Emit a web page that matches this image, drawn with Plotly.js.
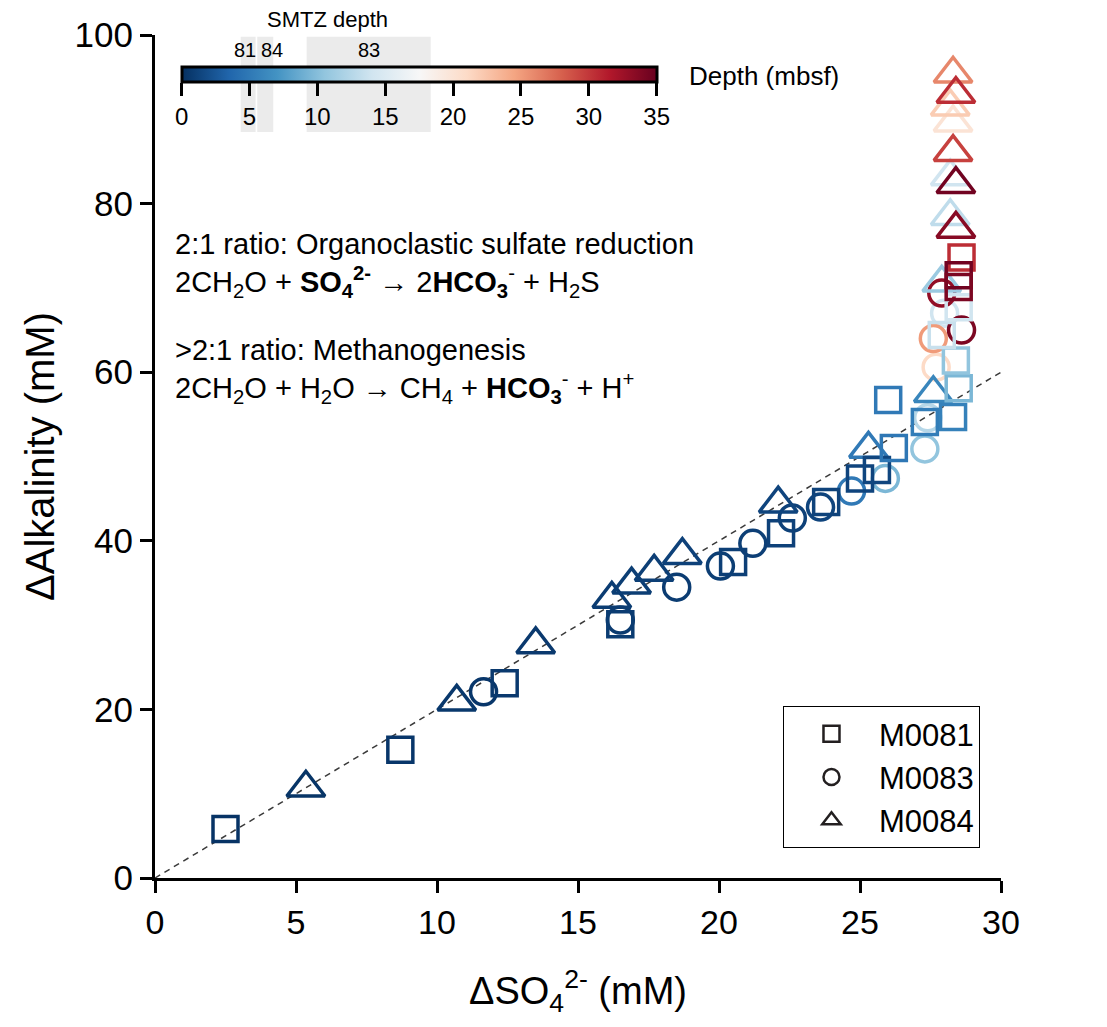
<!DOCTYPE html>
<html>
<head>
<meta charset="utf-8">
<script src="https://cdn.plot.ly/plotly-3.0.1.min.js"></script>
<style>html,body{margin:0;padding:0;background:#fff;}</style>
</head>
<body>
<div id="chart" style="width:1107px;height:1027px;"></div>
<script>
// ---- data ----
// M0081 (squares)
const so4_81 = [2.5, 8.7, 12.4, 16.5, 20.5, 22.2, 23.8, 25.0, 25.6, 26.2, 26.0, 27.3, 28.3, 28.5, 28.4, 27.9, 28.5, 28.6, 28.5, 28.5];
const alk_81 = [5.8, 15.2, 23.1, 30.1, 37.5, 40.9, 44.6, 47.4, 48.4, 51.0, 56.7, 54.1, 54.7, 58.1, 61.4, 64.4, 67.7, 73.6, 71.5, 70.1];
const dep_81 = [0.2, 0.4, 0.6, 0.8, 1.0, 1.1, 1.2, 1.3, 1.4, 4.8, 5.0, 5.3, 5.6, 9.5, 10.5, 13.5, 14.0, 30.5, 34.5, 34.0];
// M0083 (circles)
const so4_83 = [11.65, 16.5, 18.5, 20.05, 21.2, 22.6, 23.6, 24.7, 25.9, 27.3, 27.4, 28.0, 27.7, 27.6, 28.6, 27.9];
const alk_83 = [22.1, 30.6, 34.5, 37.0, 39.7, 42.7, 44.0, 45.9, 47.4, 50.9, 54.6, 67.0, 60.6, 64.0, 65.0, 69.4];
const dep_83 = [0.4, 0.7, 0.8, 0.9, 1.0, 1.1, 1.3, 5.0, 9.5, 10.5, 12.5, 14.0, 21.0, 25.0, 34.0, 33.0];
// M0084 (triangles)
const so4_84 = [5.35, 10.7, 13.5, 16.2, 16.9, 17.7, 18.7, 22.1, 25.3, 27.6, 27.9, 28.2, 28.2, 28.3, 28.2, 28.3, 28.4, 28.4, 28.3, 28.4];
const alk_84 = [10.7, 20.9, 27.7, 33.1, 34.8, 36.3, 38.3, 44.4, 50.9, 57.5, 70.6, 78.5, 83.2, 89.6, 91.5, 95.4, 77.0, 82.3, 86.1, 93.0];
const dep_84 = [0.3, 0.5, 0.6, 0.8, 0.9, 1.0, 1.1, 1.3, 5.0, 6.0, 11.0, 13.0, 14.0, 20.0, 22.0, 26.0, 33.5, 34.5, 29.5, 30.5];

// 2:1 reference line
const lineSO4 = [0, 30];
const lineAlk = [0, 60];

// SMTZ depth intervals (mbsf)
const smtzSites = ['81', '84', '83'];
const smtzTop = [4.35, 5.57, 9.21];
const smtzBottom = [5.45, 6.75, 18.35];

// ticks
const xTicks = [0, 5, 10, 15, 20, 25, 30];
const yTicks = [0, 20, 40, 60, 80, 100];
const depthTicks = [0, 5, 10, 15, 20, 25, 30, 35];
const depthMin = 0, depthMax = 35;

const legendNames = ['M0081', 'M0083', 'M0084'];

// ---- styling ----
const FONT = 'Liberation Sans, Arial, Helvetica, sans-serif';
const RdBu_r = [
  [0.0, '#053061'], [0.1, '#2166ac'], [0.2, '#4393c3'], [0.3, '#92c5de'],
  [0.4, '#d1e5f0'], [0.5, '#f7f7f7'], [0.6, '#fddbc7'], [0.7, '#f4a582'],
  [0.8, '#d6604d'], [0.9, '#b2182b'], [1.0, '#67001f']
];

// colorbar geometry (paper coords)
const cbX = 0.0315, cbLen = 0.5615, cbY = 0.9624;
function depthToPaper(d) { return cbX + (d - depthMin) / (depthMax - depthMin) * cbLen; }

function markerTrace(x, y, d, symbol, size, showscale) {
  const m = {
    symbol: symbol, size: size, color: d, colorscale: RdBu_r,
    cmin: depthMin, cmax: depthMax, line: {width: 3.5},
    showscale: !!showscale
  };
  if (showscale) {
    m.colorbar = {
      orientation: 'h', x: cbX, xanchor: 'left', y: cbY, yanchor: 'top',
      len: cbLen, lenmode: 'fraction', thickness: 15, thicknessmode: 'pixels',
      outlinewidth: 3, outlinecolor: '#000', xpad: 0, ypad: 0,
      ticks: 'outside', ticklen: 13, tickwidth: 3, tickcolor: '#000',
      tickvals: depthTicks, tickfont: {size: 24, family: FONT, color: '#000'}
    };
  }
  return {x: x, y: y, type: 'scatter', mode: 'markers', marker: m,
          showlegend: false, cliponaxis: false, hoverinfo: 'x+y'};
}

const traces = [
  {x: lineSO4, y: lineAlk, type: 'scatter', mode: 'lines',
   line: {color: '#3a3a3a', width: 1.5, dash: '6px,5px'}, showlegend: false, hoverinfo: 'skip'},
  markerTrace(so4_83, alk_83, dep_83, 'circle-open', 26, false),
  markerTrace(so4_84, alk_84, dep_84, 'triangle-up-open', 33, false),
  markerTrace(so4_81, alk_81, dep_81, 'square-open', 25, true)
];
// legend entries (black outlines)
const legendSymbols = ['square-open', 'circle-open', 'triangle-up-open'];
legendNames.forEach((nm, i) => {
  traces.push({x: [null], y: [null], type: 'scatter', mode: 'markers', name: nm,
    marker: {symbol: legendSymbols[i], color: '#231f20', size: 16, line: {width: 2.5}}});
});

const shapes = smtzSites.map((s, i) => ({
  type: 'rect', xref: 'paper', yref: 'paper', layer: 'below',
  x0: depthToPaper(smtzTop[i]), x1: depthToPaper(smtzBottom[i]),
  y0: 0.885, y1: 0.998, fillcolor: '#ebebeb', line: {width: 0}
}));

const annotations = smtzSites.map((s, i) => ({
  xref: 'paper', yref: 'paper', x: depthToPaper((smtzTop[i] + smtzBottom[i]) / 2) + (s === '84' ? 0.008 : (s === '81' ? -0.004 : 0)),
  y: 0.982, text: s, showarrow: false, xanchor: 'center', yanchor: 'middle',
  font: {size: 20, family: FONT, color: '#000'}
}));
annotations.push({xref: 'paper', yref: 'paper', x: depthToPaper((smtzTop[0] + smtzBottom[2]) / 2) - 0.01, y: 1.0185,
  text: 'SMTZ depth', showarrow: false, xanchor: 'center', yanchor: 'middle',
  font: {size: 22, family: FONT, color: '#000'}});
annotations.push({xref: 'paper', yref: 'paper', x: depthToPaper(depthMax) + 0.036, y: 0.9515,
  text: 'Depth (mbsf)', showarrow: false, xanchor: 'left', yanchor: 'middle',
  font: {size: 26, family: FONT, color: '#000'}});

const eqBlocks = [
  '2:1 ratio: Organoclastic sulfate reduction<br>' +
  '2CH<sub>2</sub>O + <b>SO<sub>4</sub><sup>2-</sup></b> → 2<b>HCO<sub>3</sub></b><sup>-</sup> + H<sub>2</sub>S',
  '>2:1 ratio: Methanogenesis<br>' +
  '2CH<sub>2</sub>O + H<sub>2</sub>O → CH<sub>4</sub> + <b>HCO<sub>3</sub></b><sup>-</sup> + H<sup>+</sup>'
];
const eqY = [0.7266, 0.6020];
eqBlocks.forEach((t, i) => annotations.push({
  xref: 'paper', yref: 'paper', x: 0.0213, y: eqY[i], text: t, showarrow: false, align: 'left',
  xanchor: 'left', yanchor: 'middle', font: {size: 29, family: FONT, color: '#000'}
}));
annotations.push({xref: 'x', yref: 'y', x: 30.3, y: 57.1, text: '<b>2:1 Line</b>', showarrow: false,
  xanchor: 'left', yanchor: 'middle', font: {size: 23, family: FONT, color: '#000'}});

const axisCommon = {
  showline: true, linewidth: 3, linecolor: '#000', mirror: false,
  ticks: 'outside', ticklen: 12, tickwidth: 3, tickcolor: '#000',
  showgrid: false, zeroline: false
};

const layout = {
  width: 1107, height: 1027,
  margin: {l: 155, r: 106, t: 35, b: 149, pad: 0},
  paper_bgcolor: '#fff', plot_bgcolor: '#fff',
  font: {family: FONT, color: '#000'},
  xaxis: Object.assign({}, axisCommon, {range: [0, 30], tickvals: xTicks,
    tickfont: {size: 34, family: FONT, color: '#000'},
    title: {text: 'ΔSO<sub>4</sub><sup>2-</sup> (mM)', font: {size: 38, family: FONT, color: '#000'}, standoff: 38}}),
  yaxis: Object.assign({}, axisCommon, {range: [0, 100], tickvals: yTicks,
    tickfont: {size: 35, family: FONT, color: '#000'},
    title: {text: 'ΔAlkalinity (mM)', font: {size: 40, family: FONT, color: '#000'}, standoff: 8}}),
  showlegend: true,
  legend: {x: 0.7423, y: 0.204, xanchor: 'left', yanchor: 'top', bgcolor: '#fff',
    bordercolor: '#000', borderwidth: 1, font: {size: 31, family: FONT, color: '#000'},
    itemwidth: 85, tracegroupgap: 0},
  shapes: shapes,
  annotations: annotations
};

Plotly.newPlot('chart', traces, layout, {displayModeBar: false, staticPlot: true});
</script>
</body>
</html>
